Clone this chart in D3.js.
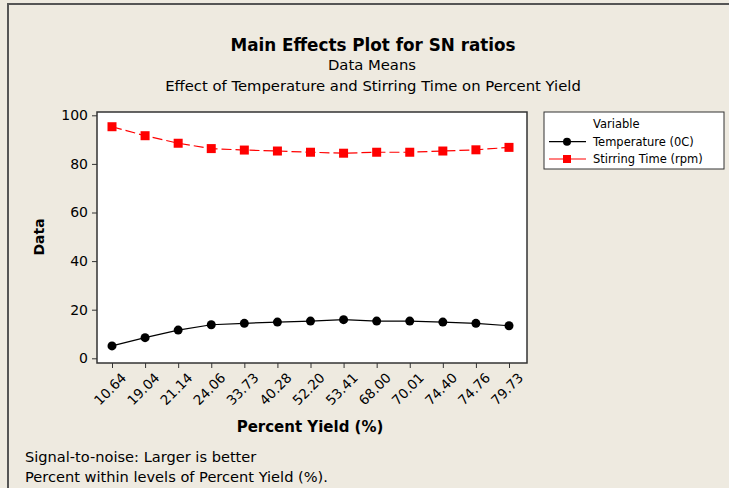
<!DOCTYPE html>
<html>
<head>
<meta charset="utf-8">
<script src="https://cdn.jsdelivr.net/npm/d3@7"></script>
<style>
  body { margin: 0; background: #eeeae0; }
  text { font-family: "DejaVu Sans", Verdana, sans-serif; fill: #000; }
</style>
</head>
<body>
<script>
// levels of Percent Yield (x axis)
var levels = ["10.64", "19.04", "21.14", "24.06", "33.73", "40.28", "52.20",
  "53.41", "68.00", "70.01", "74.40", "74.76", "79.73"];
// SN ratio means per series
var temperature = [5.1, 8.5, 11.6, 13.8, 14.4, 14.9, 15.3, 15.9, 15.3, 15.3, 14.9, 14.4, 13.4];
var stirring = [95.3, 91.6, 88.5, 86.3, 85.7, 85.3, 84.8, 84.4, 84.8, 84.8, 85.3, 85.8, 86.8];
var yTicks = [0, 20, 40, 60, 80, 100];

var width = 729;
var height = 488;

var svg = d3.select("body")
  .append("svg")
  .attr("width", width)
  .attr("height", height);

// outer frame
svg.append("rect")
  .attr("x", 8).attr("y", 4)
  .attr("width", width + 10).attr("height", height + 10)
  .attr("fill", "#eeeae0")
  .attr("stroke", "#555").attr("stroke-width", 2);

var plot = { left: 97, top: 112, right: 527, bottom: 363 };

var x = d3.scalePoint()
  .domain(levels)
  .range([112, 509]);

var y = d3.scaleLinear()
  .domain([0, 100])
  .range([358.3, 115.3]);

svg.append("rect")
  .attr("x", plot.left).attr("y", plot.top)
  .attr("width", plot.right - plot.left)
  .attr("height", plot.bottom - plot.top)
  .attr("fill", "#fff")
  .attr("stroke", "#333").attr("stroke-width", 1.5);

// y axis
var yAxis = svg.append("g")
  .attr("transform", "translate(" + plot.left + ",0)")
  .call(d3.axisLeft(y).tickValues(yTicks).tickSize(5).tickPadding(4));
yAxis.select(".domain").remove();
yAxis.selectAll("line").attr("stroke", "#333");
yAxis.selectAll("text").attr("font-size", 14).attr("font-family", "DejaVu Sans");

// x axis
var xAxis = svg.append("g")
  .attr("transform", "translate(0," + plot.bottom + ")")
  .call(d3.axisBottom(x).tickSize(5).tickPadding(4));
xAxis.select(".domain").remove();
xAxis.selectAll("line").attr("stroke", "#333");
xAxis.selectAll("text")
  .attr("font-size", 13.5)
  .attr("font-family", "DejaVu Sans")
  .attr("text-anchor", "end")
  .attr("dy", "0.35em")
  .attr("transform", "translate(5,6) rotate(-45)");

// series
var line = d3.line()
  .x(function (d, i) { return x(levels[i]); })
  .y(function (d) { return y(d); });

svg.append("path")
  .datum(temperature)
  .attr("fill", "none")
  .attr("stroke", "#000")
  .attr("stroke-width", 1.2)
  .attr("d", line);

svg.selectAll("circle.temp")
  .data(temperature)
  .enter()
  .append("circle")
  .attr("class", "temp")
  .attr("cx", function (d, i) { return x(levels[i]); })
  .attr("cy", function (d) { return y(d); })
  .attr("r", 4.5)
  .attr("fill", "#000");

svg.append("path")
  .datum(stirring)
  .attr("fill", "none")
  .attr("stroke", "#ff0000")
  .attr("stroke-width", 1.2)
  .attr("stroke-dasharray", "10,4")
  .attr("d", line);

svg.selectAll("rect.stir")
  .data(stirring)
  .enter()
  .append("rect")
  .attr("class", "stir")
  .attr("x", function (d, i) { return x(levels[i]) - 4.5; })
  .attr("y", function (d) { return y(d) - 4.5; })
  .attr("width", 9)
  .attr("height", 9)
  .attr("fill", "#ff0000");

// titles
svg.append("text")
  .attr("x", 373).attr("y", 51)
  .attr("text-anchor", "middle")
  .attr("font-size", 16.8).attr("font-weight", "bold")
  .text("Main Effects Plot for SN ratios");
svg.append("text")
  .attr("x", 372).attr("y", 70)
  .attr("text-anchor", "middle")
  .attr("font-size", 14.8)
  .text("Data Means");
svg.append("text")
  .attr("x", 373).attr("y", 91)
  .attr("text-anchor", "middle")
  .attr("font-size", 14.8)
  .text("Effect of Temperature and Stirring Time on Percent Yield");

svg.append("text")
  .attr("transform", "translate(44,237) rotate(-90)")
  .attr("text-anchor", "middle")
  .attr("font-size", 14).attr("font-weight", "bold")
  .text("Data");

svg.append("text")
  .attr("x", 310).attr("y", 432)
  .attr("text-anchor", "middle")
  .attr("font-size", 15).attr("font-weight", "bold")
  .text("Percent Yield (%)");

svg.append("text")
  .attr("x", 25).attr("y", 462)
  .attr("font-size", 14.6)
  .text("Signal-to-noise: Larger is better");
svg.append("text")
  .attr("x", 25).attr("y", 482)
  .attr("font-size", 14.6)
  .text("Percent within levels of Percent Yield (%).");

// legend
var legend = svg.append("g");
legend.append("rect")
  .attr("x", 544).attr("y", 112)
  .attr("width", 180).attr("height", 57)
  .attr("fill", "#fff")
  .attr("stroke", "#333").attr("stroke-width", 1);
legend.append("text")
  .attr("x", 593).attr("y", 128)
  .attr("font-size", 11.5)
  .text("Variable");

var legendItems = [
  { name: "Temperature (0C)", color: "#000", shape: "circle" },
  { name: "Stirring Time (rpm)", color: "#ff0000", shape: "square" }
];
legendItems.forEach(function (d, i) {
  var cy = 141.7 + i * 17.3;
  legend.append("line")
    .attr("x1", 549).attr("x2", 586)
    .attr("y1", cy).attr("y2", cy)
    .attr("stroke", d.color).attr("stroke-width", 1.2);
  if (d.shape === "circle") {
    legend.append("circle")
      .attr("cx", 567).attr("cy", cy).attr("r", 4)
      .attr("fill", d.color);
  } else {
    legend.append("rect")
      .attr("x", 563).attr("y", cy - 4)
      .attr("width", 8).attr("height", 8)
      .attr("fill", d.color);
  }
  legend.append("text")
    .attr("x", 593).attr("y", cy + 4)
    .attr("font-size", 11.5)
    .text(d.name);
});
</script>
</body>
</html>
